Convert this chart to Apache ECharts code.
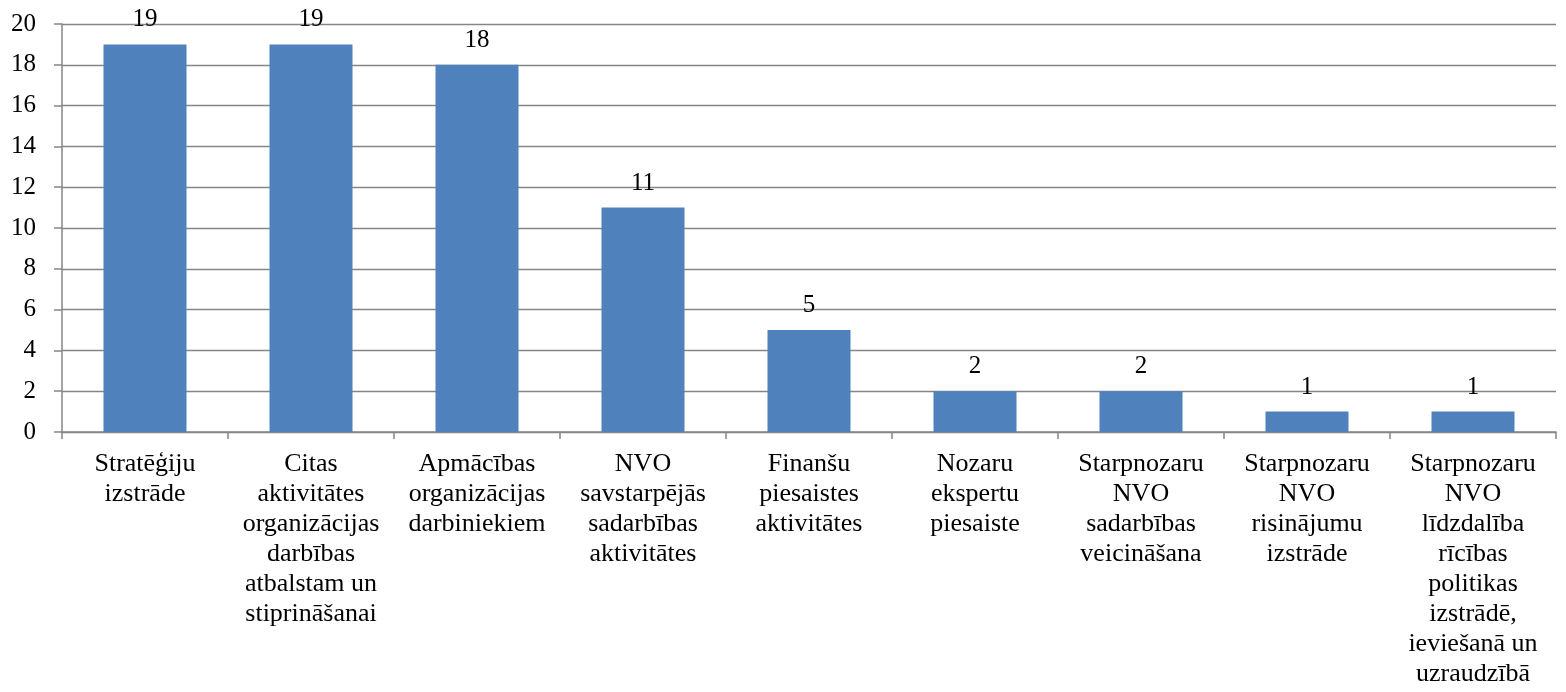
<!DOCTYPE html>
<html>
<head>
<meta charset="utf-8">
<script src="https://cdn.jsdelivr.net/npm/echarts@6/dist/echarts.min.js"></script>
<style>
  html, body { margin: 0; padding: 0; background: #fff; }
  #chart { width: 1566px; height: 692px; }
</style>
</head>
<body>
<div id="chart"></div>
<script>
// categories as printed under the axis (line breaks kept)
var categories = [
  "Stratēģiju\nizstrāde",
  "Citas\naktivitātes\norganizācijas\ndarbības\natbalstam un\nstiprināšanai",
  "Apmācības\norganizācijas\ndarbiniekiem",
  "NVO\nsavstarpējās\nsadarbības\naktivitātes",
  "Finanšu\npiesaistes\naktivitātes",
  "Nozaru\nekspertu\npiesaiste",
  "Starpnozaru\nNVO\nsadarbības\nveicināšana",
  "Starpnozaru\nNVO\nrisinājumu\nizstrāde",
  "Starpnozaru\nNVO\nlīdzdalība\nrīcības\npolitikas\nizstrādē,\nieviešanā un\nuzraudzībā"
];
var values = [19, 19, 18, 11, 5, 2, 2, 1, 1];
var yMin = 0, yMax = 20, yStep = 2;

var chart = echarts.init(document.getElementById("chart"));
var font = "'Liberation Serif', 'DejaVu Serif', serif";
var option = {
  animation: false,
  grid: { left: 62, right: 10, top: 24, bottom: 260, containLabel: false },
  xAxis: {
    type: "category",
    data: categories,
    axisLine: { lineStyle: { color: "#868686", width: 1.5 } },
    axisTick: { show: true, length: 7, lineStyle: { color: "#868686", width: 1.5 } },
    axisLabel: {
      interval: 0,
      color: "#000",
      fontFamily: font,
      fontSize: 26,
      lineHeight: 30,
      margin: 17
    },
    splitLine: { show: false }
  },
  yAxis: {
    type: "value",
    min: yMin,
    max: yMax,
    interval: yStep,
    axisLine: { show: true, lineStyle: { color: "#868686", width: 1.5 } },
    axisTick: { show: true, length: 8, lineStyle: { color: "#868686", width: 1.5 } },
    axisLabel: { color: "#000", fontFamily: font, fontSize: 25, margin: 26 },
    splitLine: { show: true, lineStyle: { color: "#868686", width: 1.3 } }
  },
  series: [
    {
      type: "bar",
      data: values,
      barWidth: "50%",
      itemStyle: { color: "#4F81BD" },
      label: {
        show: true,
        position: "top",
        distance: 12,
        color: "#000",
        fontFamily: font,
        fontSize: 25
      }
    }
  ]
};
chart.setOption(option);
</script>
</body>
</html>
